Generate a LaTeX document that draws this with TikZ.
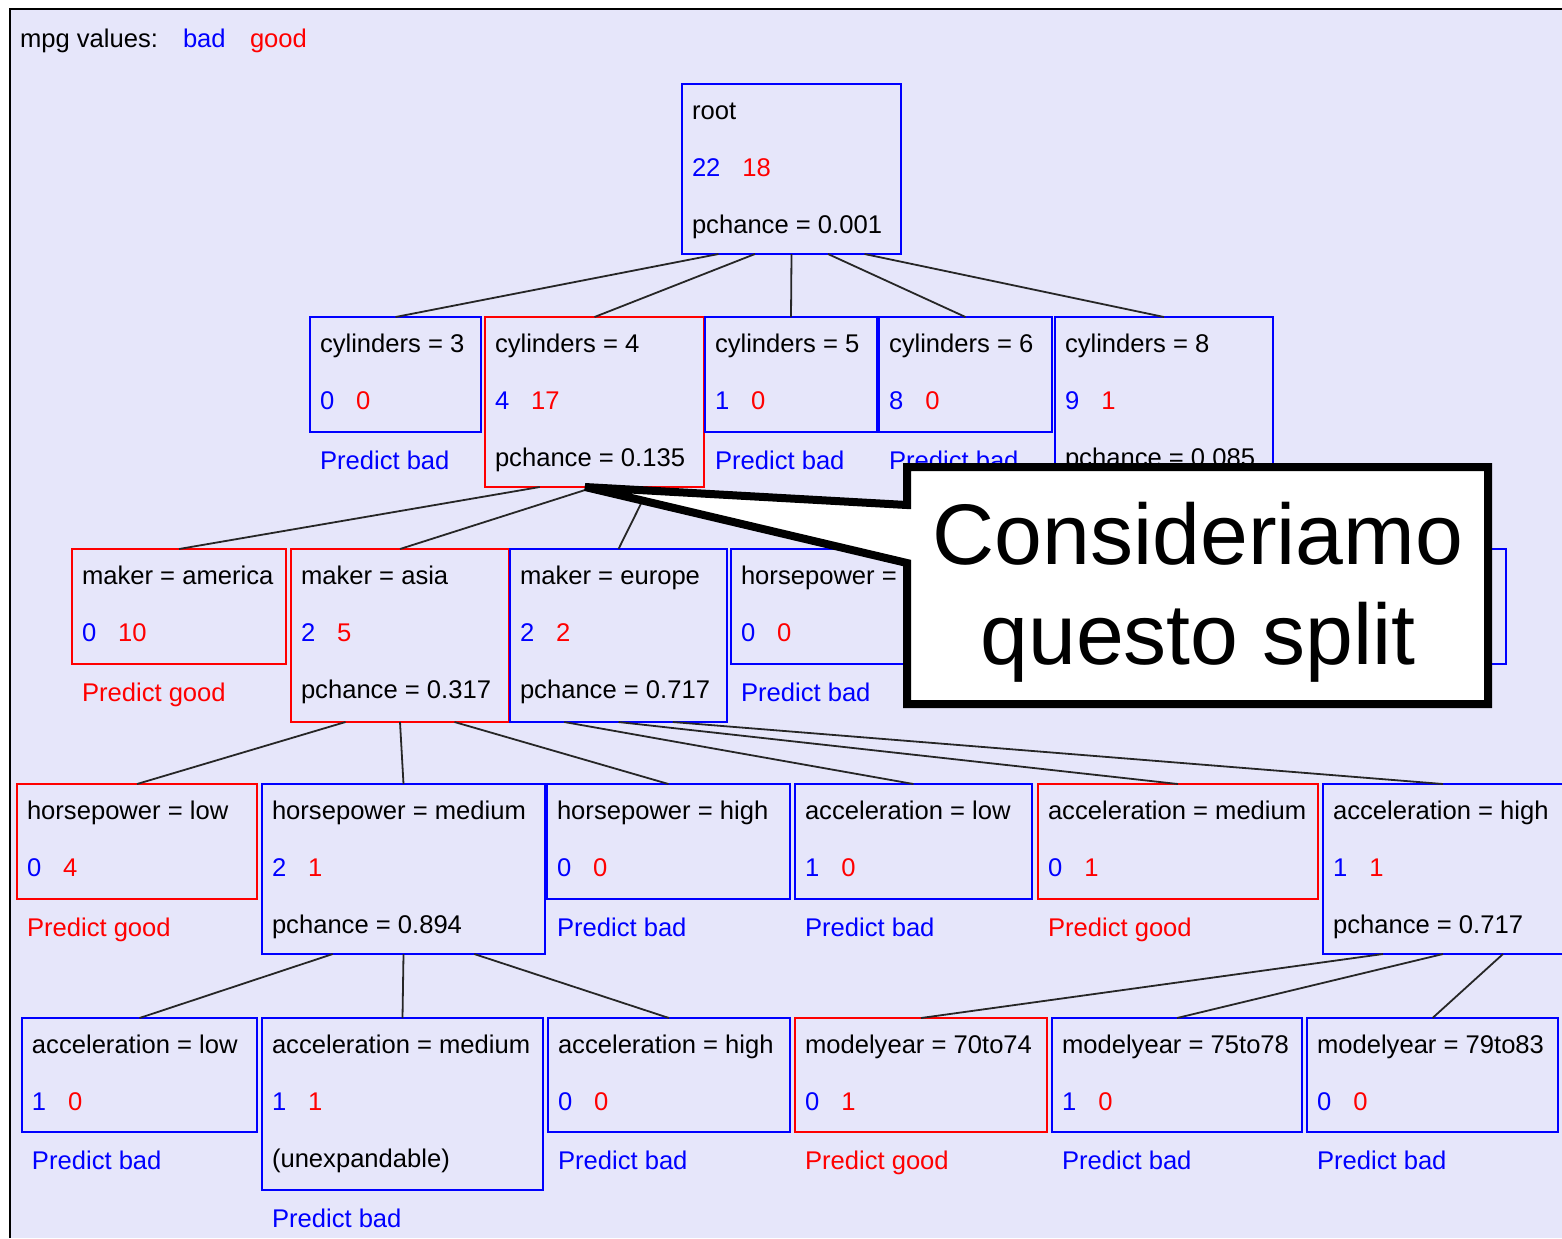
\documentclass[tikz,border=0pt]{standalone}
\usepackage{fontspec}
\setmainfont{Liberation Sans}
\usetikzlibrary{calc}

\definecolor{panel}{RGB}{230,230,250}
\definecolor{cbad}{RGB}{0,0,255}
\definecolor{cgood}{RGB}{255,0,0}

\tikzset{
  box/.style={draw, line width=1pt, inner sep=0pt, outer sep=0pt, anchor=north west},
  lbl/.style={inner sep=0pt, outer sep=0pt, font=\fontsize{12.8}{15}\selectfont, anchor=base west},
  conn/.style={draw=black!85, line width=0.9pt},
  notetext/.style={inner sep=0pt, align=center, font=\fontsize{43}{50}\selectfont},
}

% tree node: name, x1, y1, x2, y2, frame colour, title, bad count, good count
\newcommand\tnode[9]{%
  \node[box,draw=#6,minimum width={(#4-#2)*0.5pt},minimum height={(#5-#3)*0.5pt}] (#1) at (#2,#3) {};
  \node[lbl] (#1-t) at ([shift={(10,35)}]#1.north west) {#7};
  \node[lbl,text=cbad] (#1-b) at ([shift={(10,92)}]#1.north west) {#8};
  \node[lbl,text=cgood] (#1-g) at ([shift={(22,0)}]#1-b.base east) {#9};
}
% third line inside a node
\newcommand\pch[2]{\node[lbl] (#1-p) at ([shift={(10,149)}]#1.north west) {#2};}
% prediction printed under a node
\newcommand\pred[3]{\node[lbl,text=#2] (#1-r) at ([shift={(10,37)}]#1.south west) {#3};}
% branch from a point of the parent's lower side to the child's top
\newcommand\branch[3]{\draw[conn] ($(#1.south west)!#2!(#1.south east)$) -- (#3.north);}

\begin{document}
\begin{tikzpicture}[x=0.5pt,y=-0.5pt]
\useasboundingbox (0,0) rectangle (1562,1238);
\fill[white] (0,0) rectangle (1562,1238);
\fill[panel] (10,9) rectangle (1562,1238);
\draw[line width=1.4pt] (10,1238) -- (10,9) -- (1562,9);

% legend
\node[lbl] (leg) at (20,47) {mpg values:};
\node[lbl,text=cbad] (legbad) at (183,47) {bad};
\node[lbl,text=cgood] (leggood) at (250,47) {good};

% root
\tnode{root}{682}{84}{901}{254}{cbad}{root}{22}{18}
\pch{root}{pchance = 0.001}

% cylinders
\tnode{c3}{310}{317}{481}{432}{cbad}{cylinders = 3}{0}{0}
\pred{c3}{cbad}{Predict bad}
\tnode{c4}{485}{317}{704}{487}{cgood}{cylinders = 4}{4}{17}
\pch{c4}{pchance = 0.135}
\tnode{c5}{705}{317}{877}{432}{cbad}{cylinders = 5}{1}{0}
\pred{c5}{cbad}{Predict bad}
\tnode{c6}{879}{317}{1052}{432}{cbad}{cylinders = 6}{8}{0}
\pred{c6}{cbad}{Predict bad}
\tnode{c8}{1055}{317}{1273}{487}{cbad}{cylinders = 8}{9}{1}
\pch{c8}{pchance = 0.085}

% maker
\tnode{mam}{72}{549}{286}{664}{cgood}{maker = america}{0}{10}
\pred{mam}{cgood}{Predict good}
\tnode{mas}{291}{549}{509}{722}{cgood}{maker = asia}{2}{5}
\pch{mas}{pchance = 0.317}
\tnode{meu}{510}{549}{727}{722}{cbad}{maker = europe}{2}{2}
\pch{meu}{pchance = 0.717}
\tnode{hlo8}{731}{549}{971}{664}{cbad}{horsepower =}{0}{0}
\pred{hlo8}{cbad}{Predict bad}
\node[box,draw=cbad,minimum width={(1506-1264)*0.5pt},minimum height={(664-549)*0.5pt}] (hhi8) at (1264,549) {};

% horsepower / acceleration
\tnode{hlo}{17}{784}{257}{899}{cgood}{horsepower = low}{0}{4}
\pred{hlo}{cgood}{Predict good}
\tnode{hme}{262}{784}{545}{954}{cbad}{horsepower = medium}{2}{1}
\pch{hme}{pchance = 0.894}
\tnode{hhi}{547}{784}{790}{899}{cbad}{horsepower = high}{0}{0}
\pred{hhi}{cbad}{Predict bad}
\tnode{alo}{795}{784}{1032}{899}{cbad}{acceleration = low}{1}{0}
\pred{alo}{cbad}{Predict bad}
\tnode{ame}{1038}{784}{1318}{899}{cgood}{acceleration = medium}{0}{1}
\pred{ame}{cgood}{Predict good}
\tnode{ahi}{1323}{784}{1563}{954}{cbad}{acceleration = high}{1}{1}
\pch{ahi}{pchance = 0.717}

% bottom level
\tnode{alo2}{22}{1018}{257}{1132}{cbad}{acceleration = low}{1}{0}
\pred{alo2}{cbad}{Predict bad}
\tnode{ame2}{262}{1018}{543}{1190}{cbad}{acceleration = medium}{1}{1}
\pch{ame2}{(unexpandable)}
\pred{ame2}{cbad}{Predict bad}
\tnode{ahi2}{548}{1018}{790}{1132}{cbad}{acceleration = high}{0}{0}
\pred{ahi2}{cbad}{Predict bad}
\tnode{my1}{795}{1018}{1047}{1132}{cgood}{modelyear = 70to74}{0}{1}
\pred{my1}{cgood}{Predict good}
\tnode{my2}{1052}{1018}{1302}{1132}{cbad}{modelyear = 75to78}{1}{0}
\pred{my2}{cbad}{Predict bad}
\tnode{my3}{1307}{1018}{1558}{1132}{cbad}{modelyear = 79to83}{0}{0}
\pred{my3}{cbad}{Predict bad}

% branches
\branch{root}{1/6}{c3}
\branch{root}{2/6}{c4}
\branch{root}{3/6}{c5}
\branch{root}{4/6}{c6}
\branch{root}{5/6}{c8}
\branch{c4}{1/4}{mam}
\branch{c4}{2/4}{mas}
\branch{c4}{3/4}{meu}
\branch{mas}{1/4}{hlo}
\branch{mas}{2/4}{hme}
\branch{mas}{3/4}{hhi}
\branch{meu}{1/4}{alo}
\branch{meu}{2/4}{ame}
\branch{meu}{3/4}{ahi}
\branch{hme}{1/4}{alo2}
\branch{hme}{2/4}{ame2}
\branch{hme}{3/4}{ahi2}
\branch{ahi}{1/4}{my1}
\branch{ahi}{2/4}{my2}
\branch{ahi}{3/4}{my3}

% speech balloon pointing at the cylinders = 4 split
\coordinate (tip) at ($(c4.south west)!0.457!(c4.south east)$);
\filldraw[fill=white, draw=black, line width=4pt, line join=miter]
  (907,505) -- (907,467) -- (1488,467) -- (1488,704) -- (907,704) -- (907,563) -- (tip) -- cycle;
\node[notetext] (note) at (1198,592) {Consideriamo\\questo split};
\end{tikzpicture}
\end{document}
